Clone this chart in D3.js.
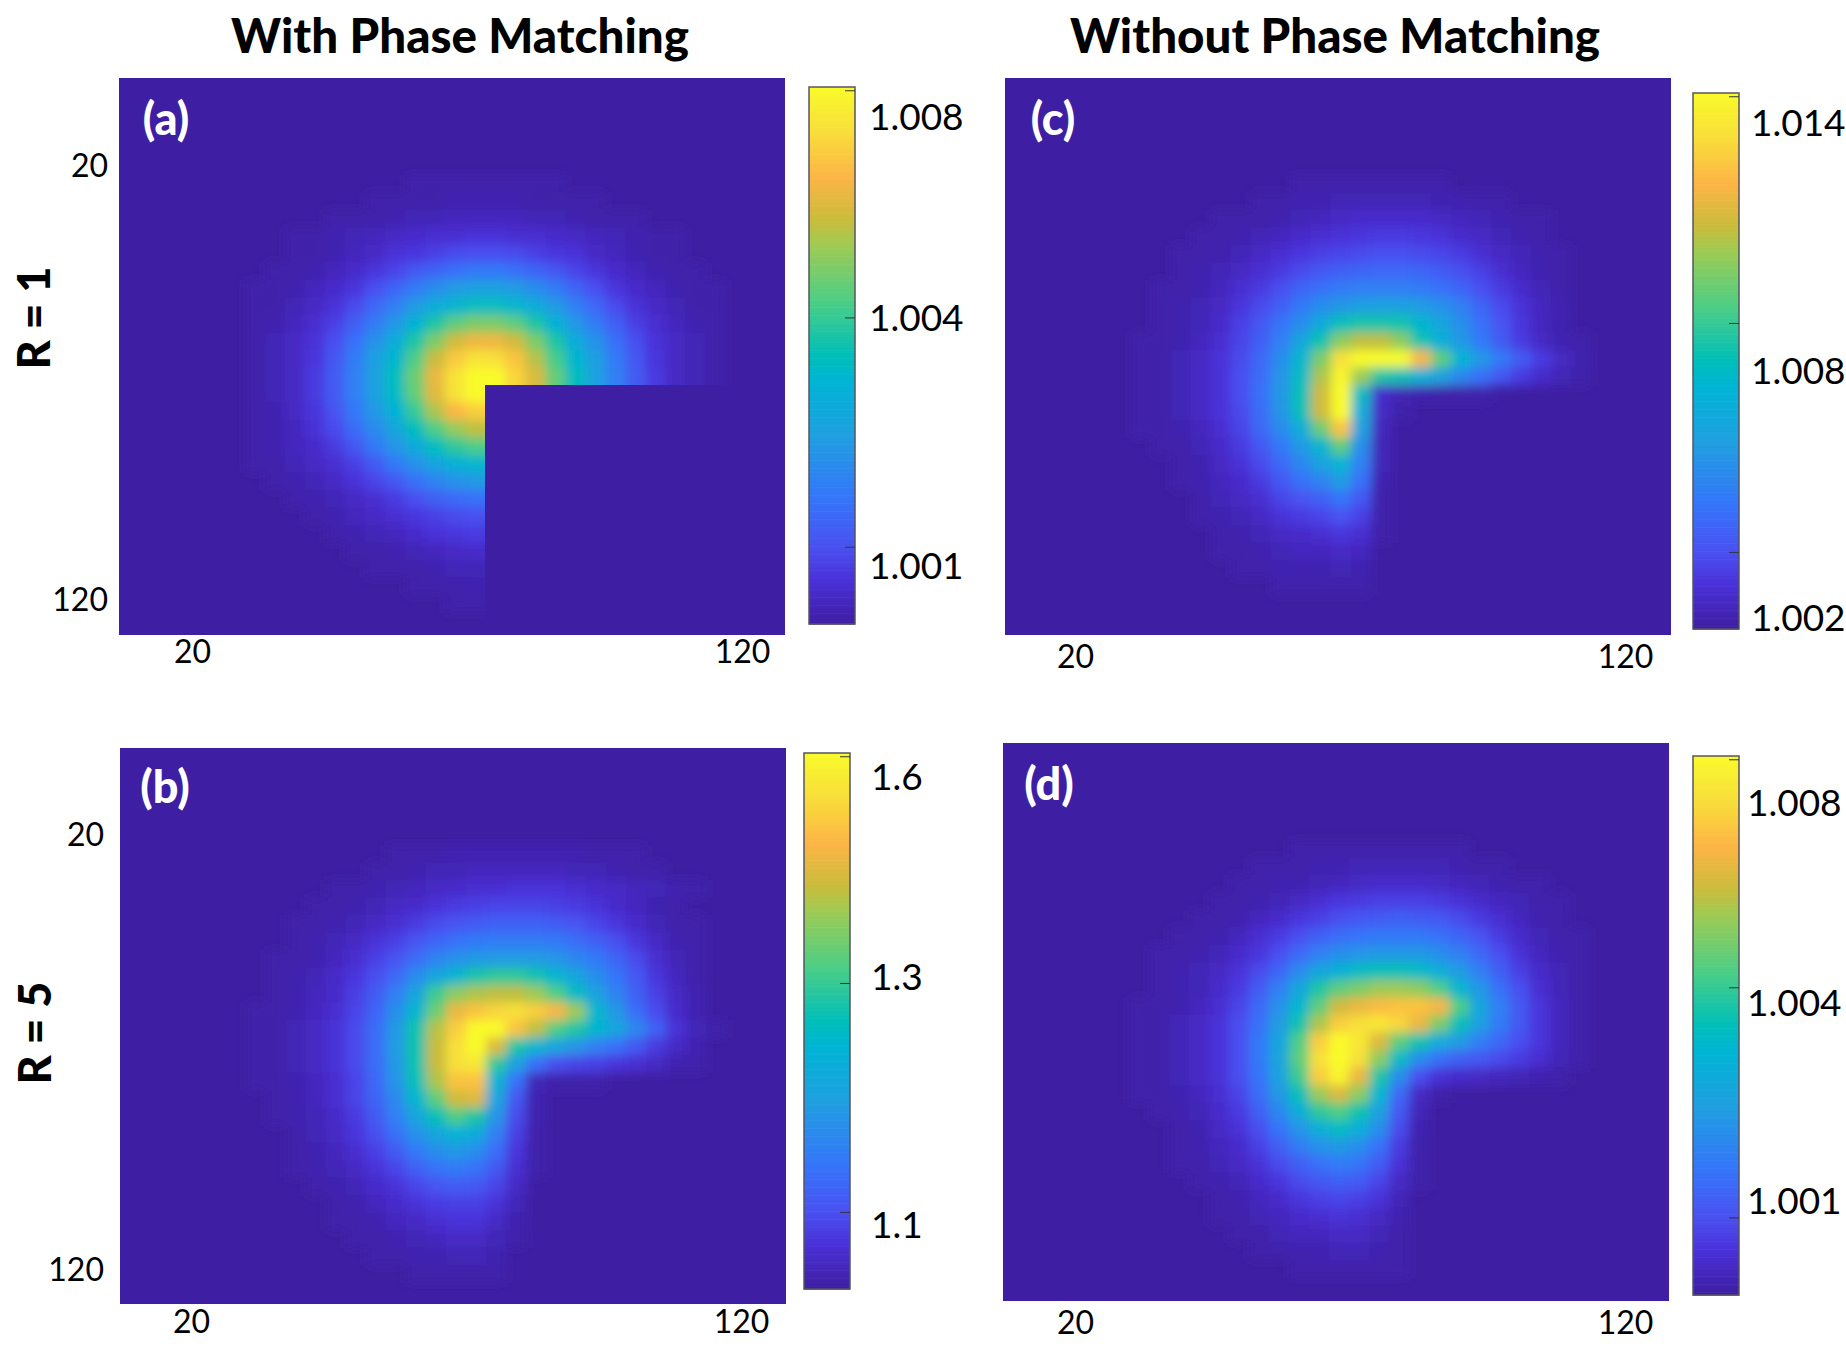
<!DOCTYPE html>
<html><head><meta charset="utf-8">
<script src="https://cdn.jsdelivr.net/npm/d3@7"></script>
<style>html,body{margin:0;background:#fff}svg{display:block}text{font-family:Lato,"Noto Sans",sans-serif}</style>
</head><body><div id="c"></div>
<script>
// Signal level as percent of each panel's colour range (rows top to bottom; missing trailing cells = 0)
const levelsA=[
[0,0,0,0,0,0,0,0,1,1,1,1,1,1,1,1],
[0,0,0,0,0,0,1,1,1,1,2,2,2,2,1,1,1,1],
[0,0,0,0,1,1,1,2,3,3,4,4,4,4,3,3,2,1,1,1],
[0,0,1,1,2,3,4,5,6,7,7,8,8,7,7,6,5,4,3,2,1,1],
[0,0,1,1,2,4,5,8,9,11,13,14,14,13,11,9,8,5,4,2,1,1],
[0,1,1,2,4,6,9,12,16,19,22,24,24,22,19,16,12,9,6,4,2,1,1],
[1,1,2,4,6,9,14,19,25,30,34,36,36,34,30,25,19,14,9,6,4,2,1,1],
[1,1,3,5,8,13,20,26,34,41,46,49,49,46,41,34,26,20,13,8,5,3,1,1],
[1,2,4,7,11,18,25,33,44,54,62,66,66,62,54,44,33,25,18,11,7,4,2,1],
[1,3,5,8,14,22,31,41,54,66,76,81,81,76,66,54,41,31,22,14,8,5,3,1],
[1,3,5,9,16,25,35,46,60,75,87,93,92,86,73,59,46,35,25,16,9,5,3,1],
[1,3,5,10,17,26,36,49,64,80,93,100,100,90,78,63,49,36,26,17,10,5,3,1],
[1,3,5,10,17,26,36,48,63,79,93,100,100,90,76,62,48,36,26,17,10,5,3,1],
[1,2,5,9,15,24,33,44,57,72,83,88,88,80,69,56,44,33,24,15,9,5,2,1],
[1,2,4,8,13,21,29,38,49,60,69,74,74,66,59,48,38,29,21,13,8,4,2,1],
[1,2,4,6,10,16,24,32,40,49,56,60,60,52,46,39,32,24,16,10,6,4,2,1],
[1,1,3,5,7,11,17,24,31,37,43,46,46,38,34,30,24,17,11,7,5,3,1,1],
[0,1,2,3,5,8,12,16,22,27,31,33,33,28,25,21,16,12,8,5,3,2,1],
[0,0,1,2,3,5,7,10,14,18,20,22,22,18,16,13,9,7,5,3,2,1],
[0,0,0,1,2,4,5,7,9,11,13,14,14,10,8,7,6,4,3,2,1],
[0,0,0,0,1,2,3,4,6,8,9,10,10,9,8,6,4,3,2,1],
[0,0,0,0,0,1,1,2,3,4,5,6,6,4,3,3,2,1,1],
[0,0,0,0,0,0,1,1,1,2,3,3,3,3,2,1,1,1],
[0,0,0,0,0,0,0,0,1,1,1,2,2,1,1,1],
[0,0,0,0,0,0,0,0,0,0,1,1,1,1],
[],[]];
const levelsB=[
[0,0,0,0,0,0,0,1,1,1,2,2,2,2,2,2,2,1,1,1],
[0,0,0,0,0,0,1,1,2,3,3,4,4,4,4,4,3,3,2,1,1],
[0,0,0,0,1,1,2,3,4,5,6,7,7,8,8,8,7,6,5,4,3,2,1],
[0,0,0,1,1,2,3,5,6,8,10,11,12,12,12,11,10,8,6,4,2,1],
[0,0,1,1,2,3,5,7,10,13,15,17,18,18,18,17,15,12,9,6,3,1,1],
[0,0,1,2,3,5,8,11,15,19,22,24,25,25,25,24,21,18,14,9,5,2,1],
[0,1,1,2,4,7,11,15,21,27,31,33,34,34,34,32,28,24,19,13,7,3,1],
[0,1,2,3,6,9,14,20,29,38,46,53,56,56,52,46,38,30,23,16,9,4,1],
[0,1,2,4,6,11,17,26,38,58,68,72,74,74,70,60,48,36,27,18,11,5,2],
[1,1,2,4,7,12,19,30,46,64,80,86,90,92,88,82,70,46,33,21,13,6,2],
[1,1,3,5,8,13,21,33,52,73,88,100,100,86,74,60,54,46,38,28,18,8,3,1],
[1,1,3,5,8,13,21,34,52,75,92,100,78,54,46,38,32,26,22,16,10,5,2],
[1,1,3,5,8,13,21,33,52,75,92,94,56,36,22,14,12,11,9,7,5,2,1],
[1,1,2,4,7,12,20,32,50,72,86,86,45,22,3,1,1,1],
[0,1,2,4,7,12,19,29,46,62,76,78,38,16,2],
[0,1,2,3,6,10,17,26,38,50,60,54,32,13,2],
[0,0,1,3,5,9,14,22,31,38,44,40,26,11,1],
[0,0,1,2,4,7,11,17,24,30,33,30,21,9,1],
[0,0,1,2,3,5,8,12,18,22,24,22,16,7,1],
[0,0,0,1,2,3,6,8,12,15,17,16,12,5],
[0,0,0,0,1,2,4,6,8,10,11,11,8,3],
[0,0,0,0,1,1,2,4,5,7,8,8,5,2],
[0,0,0,0,0,1,1,2,3,4,5,5,3,1],
[0,0,0,0,0,0,1,1,2,2,3,3,2],
[0,0,0,0,0,0,0,0,1,1,1,1,1],
[]];
const levelsC=[
[0,0,0,0,0,0,0,0,1,1,1,1,1,1,1,1],
[0,0,0,0,0,0,1,1,2,2,3,3,3,3,3,2,2,1,1],
[0,0,0,0,1,1,1,2,3,4,5,6,6,6,6,5,4,3,2,1,1],
[0,0,0,1,1,2,3,4,6,7,8,9,10,10,9,8,6,5,3,2,1],
[0,0,1,1,2,3,5,7,9,11,12,13,14,14,13,12,10,7,5,3,2,1],
[0,0,1,2,3,5,7,10,13,16,18,19,20,20,19,17,14,11,7,4,2,1],
[0,1,1,2,4,7,10,14,19,22,25,26,26,26,25,22,19,14,10,6,3,1],
[0,1,2,3,5,9,13,18,24,30,33,35,36,36,34,31,26,19,13,8,4,2],
[0,1,2,3,6,11,16,23,30,40,50,53,53,52,46,38,30,22,15,9,4,2],
[1,1,2,4,7,12,18,26,38,52,68,74,74,68,52,42,33,24,17,10,5,2,1],
[1,1,3,5,8,13,20,30,46,66,92,100,100,100,82,62,45,33,24,17,10,5,2],
[1,1,3,5,8,14,21,32,48,72,98,70,54,50,44,36,28,22,16,10,6,3,1],
[1,1,3,5,8,14,22,33,50,76,100,48,6,3,2,1,1,1],
[1,1,3,5,8,13,21,32,50,76,100,42,5,1],
[1,1,2,4,7,12,20,29,42,64,86,36,4],
[0,1,1,3,6,10,16,24,33,46,62,30,3],
[0,0,1,2,5,8,13,20,28,36,45,26,3],
[0,0,1,2,4,6,10,16,22,27,34,22,2],
[0,0,0,1,3,5,7,12,15,18,23,16,1],
[0,0,0,1,2,3,5,8,10,12,15,11,1],
[0,0,0,0,1,2,3,5,6,7,9,7,1],
[0,0,0,0,1,1,2,3,4,4,5,4],
[0,0,0,0,0,1,1,2,2,2,3,2],
[0,0,0,0,0,0,0,1,1,1,1,1],
[],[]];
const levelsD=[
[0,0,0,0,0,0,0,0,1,1,1,1,1,1,1,1,1],
[0,0,0,0,0,0,1,1,1,2,2,3,3,3,3,3,2,1,1],
[0,0,0,0,0,1,1,2,2,3,4,5,6,6,6,5,4,3,2,1,1],
[0,0,0,0,1,1,2,3,5,7,9,10,11,11,11,10,8,6,4,3,1,1],
[0,0,0,1,1,2,4,6,9,11,14,16,17,18,17,16,13,10,7,4,2,1],
[0,0,1,1,2,4,7,10,14,18,21,23,24,24,24,22,19,15,10,6,3,1,1],
[0,1,1,2,3,6,9,14,20,26,30,32,33,33,33,30,26,20,14,8,4,2,1],
[0,1,2,3,5,8,13,19,29,37,43,48,50,50,48,42,34,26,18,11,6,3,1],
[0,1,2,3,6,10,17,26,38,54,62,66,70,70,68,60,46,33,22,14,7,3,1],
[1,1,2,4,7,12,20,31,46,62,76,80,84,86,86,82,60,38,26,16,9,4,1],
[1,1,3,5,8,14,22,34,52,72,88,92,94,90,80,66,50,36,25,16,9,4,1],
[1,1,3,5,8,14,24,37,60,88,100,94,78,62,52,42,34,26,20,14,9,4,1],
[1,1,3,5,8,14,24,38,62,92,100,92,68,48,30,22,18,16,13,10,7,3,1],
[1,1,3,5,8,14,23,36,58,88,98,80,54,30,14,8,6,5,4,3,2,1],
[1,1,2,4,7,12,21,33,50,70,78,68,46,20,5,1],
[0,1,2,3,6,10,18,28,42,56,60,52,36,16,3],
[0,0,1,2,5,8,14,23,32,42,48,42,30,13,2],
[0,0,1,2,4,6,11,18,25,31,33,30,22,10,1],
[0,0,1,1,3,5,8,13,18,22,25,23,17,8,1],
[0,0,0,1,2,3,6,9,13,16,18,17,12,5,1],
[0,0,0,0,1,2,4,6,9,11,12,11,8,3],
[0,0,0,0,1,1,3,4,6,7,8,7,5,2],
[0,0,0,0,0,1,1,3,4,4,5,5,3,1],
[0,0,0,0,0,0,1,1,2,2,3,3,2,1],
[0,0,0,0,0,0,0,0,1,1,1,1,1,1],
[]];
const axisTicks=[20,120];
const tickLabelsA=["1.008","1.004","1.001"];
const tickLabelsB=["1.6","1.3","1.1"];
const tickLabelsC=["1.014","1.008","1.002"];
const tickLabelsD=["1.008","1.004","1.001"];
const cbTickLevels=[99.3,57,14.3];
const colourStops=[0,8,14,23,35,45,50,60,70,75,83,92,100];
const colourHex=["#3e1fa3","#4a30d8","#4a50f0","#3575fa","#1fa0e0","#00b4d4","#00bfb8","#4dce85","#9ccb55","#c9bc3c","#fdb545","#f8e03a","#f9fb2a"];
const headings=["With Phase Matching","Without Phase Matching"];
const rowLabels=["R = 1","R = 5"];

const W=1846,H=1350,NC=24,NR=26;
const color=d3.scaleLinear().domain(colourStops).range(colourHex).clamp(true);
const svg=d3.select("#c").append("svg").attr("width",W).attr("height",H);
const defs=svg.append("defs");
defs.append("filter").attr("id","soft").attr("filterUnits","userSpaceOnUse")
 .attr("x",0).attr("y",0).attr("width",W).attr("height",H)
 .append("feGaussianBlur").attr("stdDeviation",5.5);

const panels=[
 {id:"a",data:levelsA,p:[119,78,785,635],grid:[245,175],bar:[809,87,855,624],labels:tickLabelsA,ly:[115,316,564],lx:869,tag:[166,118],xt:[192,742,650],yt:[108,164,598],mask:[485,385]},
 {id:"b",data:levelsB,p:[120,748,786,1304],grid:[246,845],bar:[804,753,850,1289],labels:tickLabelsB,ly:[775,975,1223],lx:871,tag:[165,786],xt:[191,741,1320],yt:[104,833,1268]},
 {id:"c",data:levelsC,p:[1005,78,1671,635],grid:[1131,175],bar:[1693,93,1739,629],labels:tickLabelsC,ly:[121,369,616],lx:1751,tag:[1053,118],xt:[1075,1625,655]},
 {id:"d",data:levelsD,p:[1003,743,1669,1301],grid:[1129,840],bar:[1693,756,1739,1295],labels:tickLabelsD,ly:[801,1001,1199],lx:1747,tag:[1049,783],xt:[1075,1625,1321]}
];

panels.forEach(P=>{
 const [x0,y0,x1,y1]=P.p;
 const g=svg.append("g");
 defs.append("clipPath").attr("id","clip"+P.id).append("rect").attr("x",x0).attr("y",y0).attr("width",x1-x0).attr("height",y1-y0);
 const fld=g.append("g").attr("clip-path",`url(#clip${P.id})`);
 fld.append("rect").attr("x",x0).attr("y",y0).attr("width",x1-x0).attr("height",y1-y0).attr("fill",color(0));
 const gx=d3.scaleBand().domain(d3.range(NC)).range([P.grid[0],P.grid[0]+20*NC]);
 const gy=d3.scaleBand().domain(d3.range(NR)).range([P.grid[1],P.grid[1]+17.5*NR]);
 const cells=P.data.flatMap((row,j)=>row.map((v,i)=>({i,j,v}))).filter(d=>d.v>0);
 fld.append("g").attr("filter","url(#soft)").selectAll("rect").data(cells).join("rect")
  .attr("x",d=>gx(d.i)).attr("y",d=>gy(d.j)).attr("width",gx.bandwidth()+.5).attr("height",gy.bandwidth()+.5)
  .attr("fill",d=>color(d.v));
 if(P.mask) fld.append("rect").attr("x",P.mask[0]).attr("y",P.mask[1]).attr("width",x1-P.mask[0]).attr("height",y1-P.mask[1]).attr("fill",color(0));

 g.append("text").attr("x",P.tag[0]).attr("y",P.tag[1]).attr("text-anchor","middle").attr("dominant-baseline","central")
  .attr("fill","#fff").attr("font-weight",900).attr("font-size",45).text(`(${P.id})`);

 const xs=d3.scaleLinear().domain(axisTicks).range([P.xt[0],P.xt[1]]);
 const ax=g.append("g").attr("transform",`translate(0,${P.xt[2]-15})`).call(d3.axisBottom(xs).tickValues(axisTicks).tickSize(0).tickPadding(0));
 ax.select(".domain").remove();
 ax.selectAll("text").attr("font-size",32).attr("dy",0).attr("y",15).attr("dominant-baseline","central").attr("fill","#000").style("font-family","Lato");
 if(P.yt){
  const ys=d3.scaleLinear().domain(axisTicks).range([P.yt[1],P.yt[2]]);
  const ay=g.append("g").attr("transform",`translate(${P.yt[0]},0)`).call(d3.axisLeft(ys).tickValues(axisTicks).tickSize(0).tickPadding(0));
  ay.select(".domain").remove();
  ay.selectAll("text").attr("font-size",32).attr("dy",0).attr("dominant-baseline","central").attr("fill","#000").style("font-family","Lato");
 }

 const [bx0,by0,bx1,by1]=P.bar;
 const cy=d3.scaleLinear().domain([0,100]).range([by1,by0]);
 const steps=d3.range(0,100,0.5);
 g.append("g").selectAll("rect").data(steps).join("rect")
  .attr("x",bx0).attr("width",bx1-bx0).attr("y",d=>cy(d+.5)).attr("height",d=>cy(d)-cy(d+.5)+.6).attr("fill",d=>color(d));
 g.append("rect").attr("x",bx0).attr("y",by0).attr("width",bx1-bx0).attr("height",by1-by0).attr("fill","none").attr("stroke","#55555f").attr("stroke-width",1.5);
 g.append("g").selectAll("line").data(cbTickLevels).join("line")
  .attr("x1",bx1-10).attr("x2",bx1).attr("y1",d=>cy(d)).attr("y2",d=>cy(d)).attr("stroke","#333").attr("stroke-width",1);
 g.append("g").selectAll("text").data(P.labels).join("text")
  .attr("x",P.lx).attr("y",(d,i)=>P.ly[i]).attr("dominant-baseline","central").attr("font-size",37).attr("fill","#000").text(d=>d);
});

const headX=[460,1335];
svg.append("g").selectAll("text").data(headings).join("text")
 .attr("x",(d,i)=>headX[i]).attr("y",34).attr("text-anchor","middle").attr("dominant-baseline","central")
 .attr("font-weight",900).attr("font-size",47.5).attr("fill","#000").text(d=>d);
const rowPos=[[33,318],[34,1033]];
svg.append("g").selectAll("text").data(rowLabels).join("text")
 .attr("transform",(d,i)=>`translate(${rowPos[i][0]},${rowPos[i][1]}) rotate(-90)`).attr("text-anchor","middle").attr("dominant-baseline","central")
 .attr("font-weight",900).attr("font-size",45).attr("fill","#000").text(d=>d);
</script></body></html>
